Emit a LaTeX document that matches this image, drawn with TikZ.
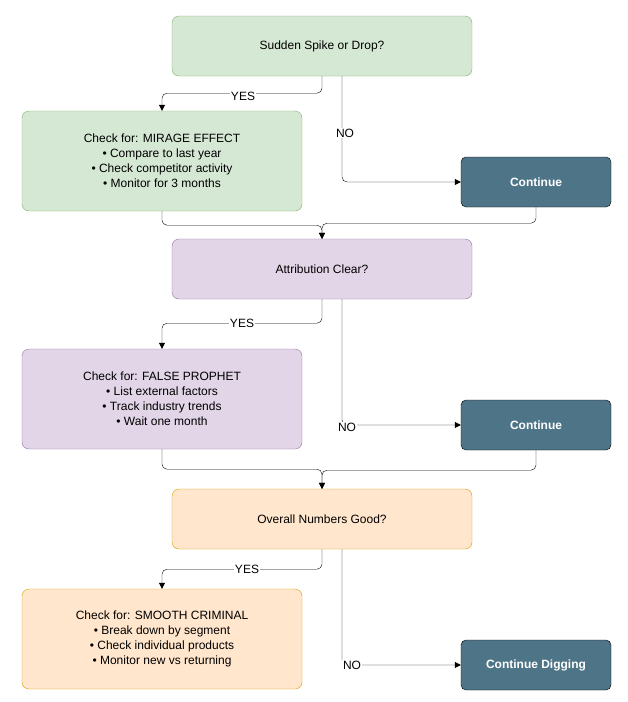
\documentclass[tikz,border=0pt]{standalone}
\usepackage{fontspec}
\setmainfont{Liberation Sans}
\usetikzlibrary{arrows.meta,positioning}
\definecolor{gfill}{HTML}{D5E8D4}\definecolor{gline}{HTML}{82B366}
\definecolor{pfill}{HTML}{E1D5E7}\definecolor{pline}{HTML}{9673A6}
\definecolor{ofill}{HTML}{FFE6CC}\definecolor{oline}{HTML}{D79B00}
\definecolor{dfill}{HTML}{4E7487}
\tikzset{
  box/.style={draw,rounded corners=7pt,minimum width=300pt,minimum height=60pt,align=center,font=\fontsize{12}{15}\selectfont},
  check/.style={box,minimum width=280pt,minimum height=100pt},
  cont/.style={draw=black,fill=dfill,text=white,rounded corners=5pt,minimum width=150pt,minimum height=50pt,font=\fontsize{12}{15}\selectfont\bfseries},
  link/.style={-{Triangle[length=6pt,width=6pt]},rounded corners=5pt},
  lbl/.style={fill=white,inner sep=1pt,font=\fontsize{12}{15}\selectfont}
}
\begin{document}
\begin{tikzpicture}[x=1pt,y=-1pt]
\useasboundingbox (0,0) rectangle (628,702);
% first question
\node[box,fill=gfill,draw=gline] (q1) at (322,46) {Sudden Spike or Drop?};
\node[check,fill=gfill,draw=gline] (k1) at (162,161) {Check for: MIRAGE EFFECT\\ \textbullet\ Compare to last year\\ \textbullet\ Check competitor activity\\ \textbullet\ Monitor for 3 months};
\node[cont] (c1) at (536,182) {Continue};
% second question
\node[box,fill=pfill,draw=pline] (q2) at (322,269) {Attribution Clear?};
\node[check,fill=pfill,draw=pline] (k2) at (162,399) {Check for: FALSE PROPHET\\ \textbullet\ List external factors\\ \textbullet\ Track industry trends\\ \textbullet\ Wait one month};
\node[cont] (c2) at (536,425) {Continue};
% third question
\node[box,fill=ofill,draw=oline] (q3) at (322,519) {Overall Numbers Good?};
\node[check,fill=ofill,draw=oline] (k3) at (162,639) {Check for: SMOOTH CRIMINAL\\ \textbullet\ Break down by segment\\ \textbullet\ Check individual products\\ \textbullet\ Monitor new vs returning};
\node[cont] (c3) at (536,665) {Continue Digging};
% links
\draw[link] (q1.south) -- ++(0,17) -| (k1.north);
\node[lbl] at (243,96) {YES};
\draw[link] ([xshift=20pt]q1.south) |- (c1.west);
\node[lbl] at (345,133) {NO};
\draw[link] (k1.south) -- ++(0,14) -| (q2.north);
\draw[link] (c1.south) -- ++(0,16) -| (q2.north);
\draw[link] (q2.south) -- ++(0,24) -| (k2.north);
\node[lbl] at (242,323) {YES};
\draw[link] ([xshift=20pt]q2.south) |- (c2.west);
\node[lbl] at (347,427) {NO};
\draw[link] (k2.south) -- ++(0,20) -| (q3.north);
\draw[link] (c2.south) -- ++(0,20) -| (q3.north);
\draw[link] (q3.south) -- ++(0,20) -| (k3.north);
\node[lbl] at (247,569) {YES};
\draw[link] ([xshift=20pt]q3.south) |- (c3.west);
\node[lbl] at (352,665) {NO};
\end{tikzpicture}
\end{document}
